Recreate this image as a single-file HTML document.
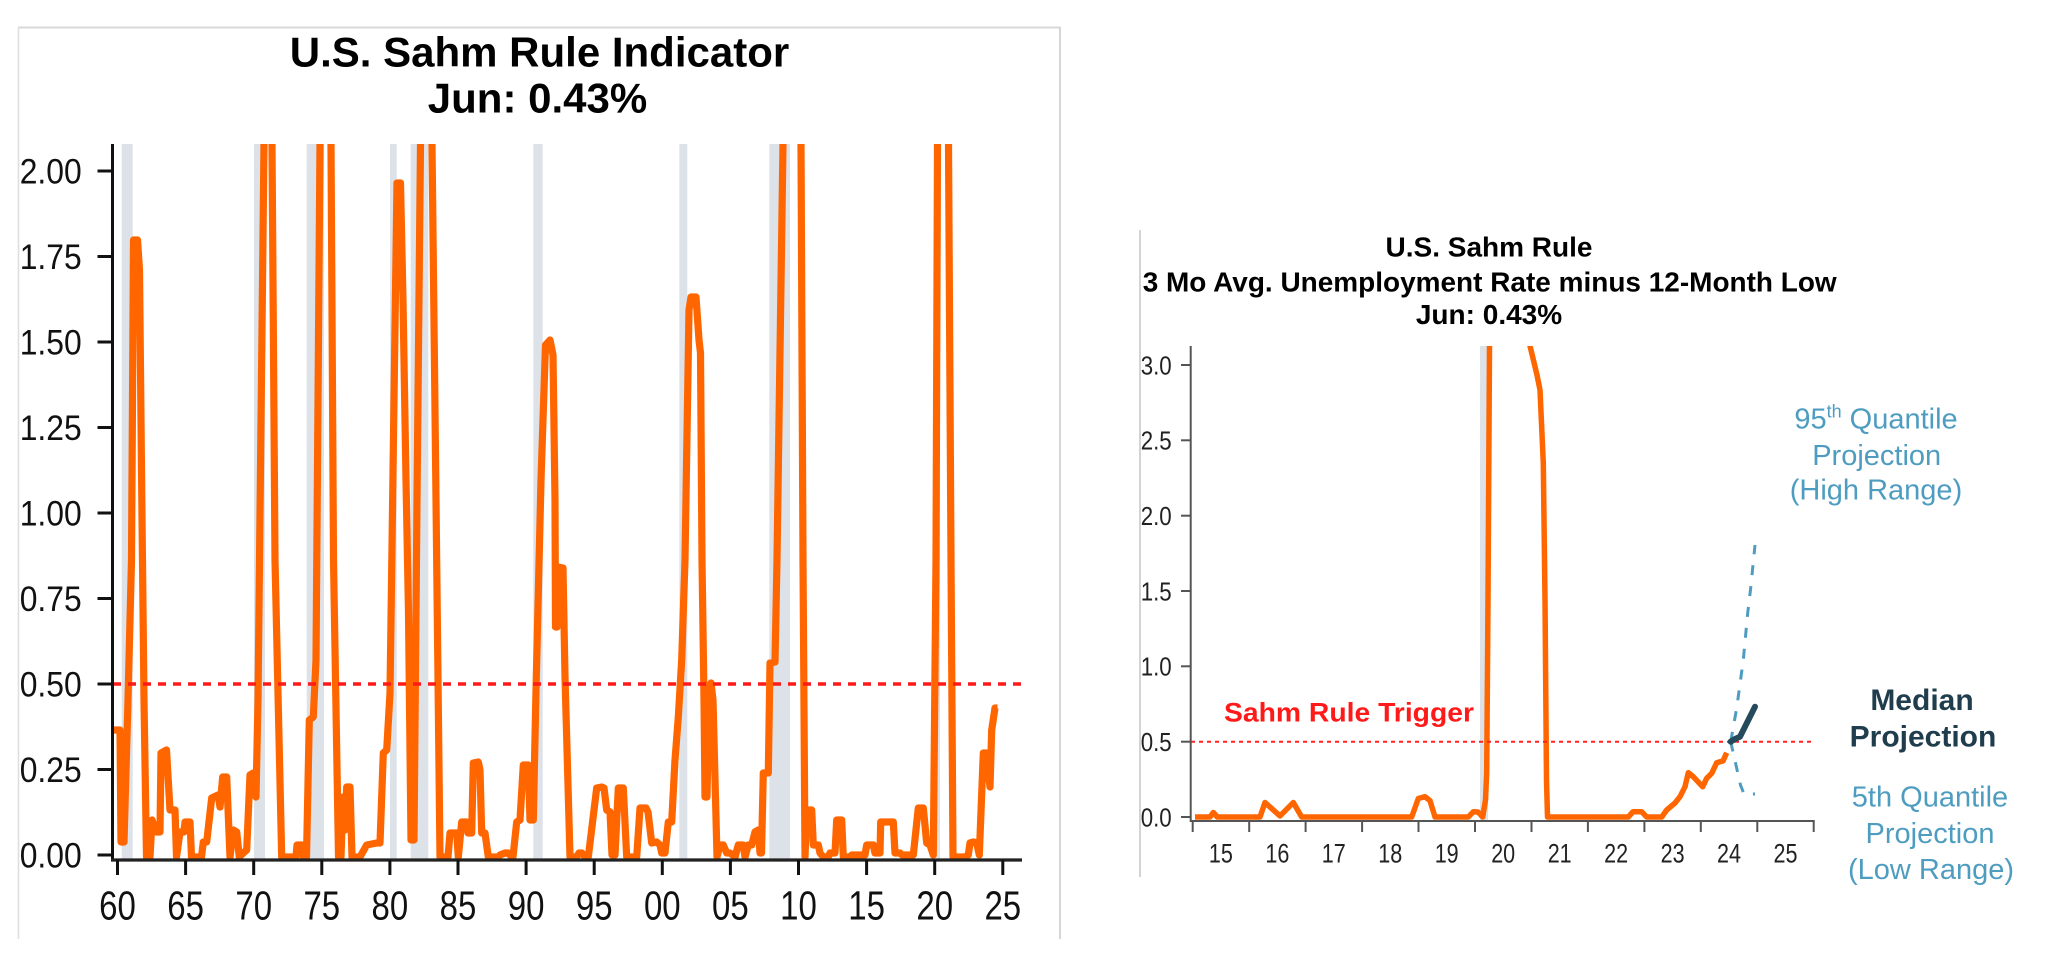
<!DOCTYPE html>
<html>
<head>
<meta charset="utf-8">
<style>
  html,body{margin:0;padding:0;background:#fff;}
  body{width:2048px;height:970px;overflow:hidden;}
  svg{display:block;}
  text{font-family:"Liberation Sans", Arial, sans-serif;}
</style>
</head>
<body>
<svg width="2048" height="970" viewBox="0 0 2048 970" xmlns="http://www.w3.org/2000/svg">
  <defs>
    <clipPath id="cl"><rect x="113" y="144" width="917" height="718"/></clipPath>
    <clipPath id="cr"><rect x="1191" y="346" width="624" height="479"/></clipPath>
  </defs>
  <rect x="0" y="0" width="2048" height="970" fill="#fff"/>

  <!-- ================= LEFT PANEL ================= -->
  <line x1="18" y1="27.5" x2="1061" y2="27.5" stroke="#d8d8d8" stroke-width="2"/>
  <line x1="18.5" y1="27" x2="18.5" y2="939" stroke="#dedede" stroke-width="1.5"/>
  <line x1="1060" y1="27" x2="1060" y2="939" stroke="#d6d6d6" stroke-width="2"/>

  <text x="539.5" y="66.7" text-anchor="middle" font-size="42" font-weight="bold" fill="#000">U.S. Sahm Rule Indicator</text>
  <text x="537.5" y="112.7" text-anchor="middle" font-size="42" font-weight="bold" fill="#000">Jun: 0.43%</text>

  <!-- recession bars -->
  <g fill="#dde2e9">
    <rect x="121.7" y="144" width="11" height="716"/>
    <rect x="254" y="144" width="11" height="716"/>
    <rect x="306.7" y="144" width="17.3" height="716"/>
    <rect x="390" y="144" width="6.7" height="716"/>
    <rect x="410.7" y="144" width="17.6" height="716"/>
    <rect x="533.3" y="144" width="9.4" height="716"/>
    <rect x="679.3" y="144" width="8" height="716"/>
    <rect x="769.3" y="144" width="20.7" height="716"/>
    <rect x="936.5" y="144" width="3.5" height="716"/>
  </g>

  <!-- orange series -->
  <g clip-path="url(#cl)">
    <polyline fill="none" stroke="#ff6600" stroke-width="7.2" stroke-linejoin="round" stroke-linecap="butt" points="
114,730 120,730 121,842 124,842 128,700 131.5,560 133.5,240 137.5,240 139.5,270 141.5,470 144,700 146.5,857
150,857 152,820 156.5,832 160,832 161,753 166.5,750 170,810 175,810 176.5,857 180,832 184,832 185,822 190,822 191.5,857
201.5,857 203.3,842 206.7,842 211.7,798 218,795 220,807 222.7,777 226.7,777 230,857 233.3,830 236.7,832 239.3,857 243.3,853 246.7,850 250,775 253.3,773 256,797 258,700 264,144 268,40 272,144 275,560 281.7,857
296,857 297,845 301.7,845 303.3,857 306.5,857 309.3,720 313.3,717 316,660 320,144 326,40 331,144 333.5,560 338.5,857
341,857 343,797 345,830 346.7,787 350,787 352,857 360,857 366.7,845 376.7,843 380,843 383.3,753 386.7,750 390,693 394,400 397,183 400.5,183 403,300 406,480 408.5,613 411,840 414,840 417,500 420.5,144 426,40 432,144 436,500 440,857
448,857 450,833 456.7,833 458.3,857 461.7,822 466.7,822 468,833 471.7,833 473.3,763 478.3,762 480,770 481.7,833 485,833 488.3,857 498,857 500,855 505,853 508.3,853 511.7,857 513,857 516.7,822 520,820 523.3,765 528.3,765 530,820 533.3,820 536,690 541,480 545.5,345 550,340 553,355 555,500 555.5,627 557,627 558,567 563,568 565,677 570,857
576.7,857 579,853 582,853 585,857 588.3,857 596.7,788 601.7,787 604,788 606.7,810 610,812 612,855 615,855 618.3,788 623.3,788 626.7,857 636.7,857 640,808 646,808 648,812 651.7,843 656.7,842 660,845 661.7,853 665,853 668.3,822 671.7,822 675,760 678.3,717 681.7,660 685,560 689,310 691,297 696,297 699,340 700.5,353 702,560 704,700 705,797 707,797 709,690 711,683 713,700 717,857
720,845 723.3,845 726.7,853 730,853 735,857 738.3,845 743.3,845 745,857 748.3,845 751.7,845 755,832 758.3,830 760,853 761.5,853 763.3,773 768.3,773 770,663 775,662 777,560 783,144 792,40 801,144 803,560 805,857
806.7,810 811.7,810 813.3,845 818.3,845 820,853 823.3,857 828.3,857 830,853 835,853 836.7,820 841.7,820 843.3,857 850,857 851.7,855 865,855 866.7,845 873.3,845 875,853 880,853 880.7,822 893.3,822 895,853 900,853 902,855 913.3,855 918.3,808 923.3,808 926.7,843 930,845 933.3,855 936,560 937.5,144 943,40 948.5,144 951,560 953,857
965,857 968.3,855 970,843 973.3,842 976.7,843 979.3,855 983.3,753 986.7,753 990,787 991.7,730 995,708 997.5,708"/>
  </g>

  <!-- trigger line -->
  <line x1="113" y1="684" x2="1028" y2="684" stroke="#ff1a1a" stroke-width="3.5" stroke-dasharray="8 7"/>

  <!-- axes -->
  <line x1="112.5" y1="144" x2="112.5" y2="861.5" stroke="#111" stroke-width="3"/>
  <line x1="111" y1="860" x2="1022" y2="860" stroke="#222" stroke-width="3.3"/>
  <g stroke="#111" stroke-width="3">
    <line x1="97.5" y1="171" x2="112.5" y2="171"/>
    <line x1="97.5" y1="256.5" x2="112.5" y2="256.5"/>
    <line x1="97.5" y1="342" x2="112.5" y2="342"/>
    <line x1="97.5" y1="427.5" x2="112.5" y2="427.5"/>
    <line x1="97.5" y1="513" x2="112.5" y2="513"/>
    <line x1="97.5" y1="598.5" x2="112.5" y2="598.5"/>
    <line x1="97.5" y1="684" x2="112.5" y2="684"/>
    <line x1="97.5" y1="769.5" x2="112.5" y2="769.5"/>
    <line x1="97.5" y1="855" x2="112.5" y2="855"/>
  </g>
  <g fill="#111" font-size="35" text-anchor="end">
    <text x="81.7" y="183.5" textLength="62" lengthAdjust="spacingAndGlyphs">2.00</text>
    <text x="81.7" y="269" textLength="62" lengthAdjust="spacingAndGlyphs">1.75</text>
    <text x="81.7" y="354.5" textLength="62" lengthAdjust="spacingAndGlyphs">1.50</text>
    <text x="81.7" y="440" textLength="62" lengthAdjust="spacingAndGlyphs">1.25</text>
    <text x="81.7" y="525.5" textLength="62" lengthAdjust="spacingAndGlyphs">1.00</text>
    <text x="81.7" y="611" textLength="62" lengthAdjust="spacingAndGlyphs">0.75</text>
    <text x="81.7" y="696.5" textLength="62" lengthAdjust="spacingAndGlyphs">0.50</text>
    <text x="81.7" y="782" textLength="62" lengthAdjust="spacingAndGlyphs">0.25</text>
    <text x="81.7" y="867.5" textLength="62" lengthAdjust="spacingAndGlyphs">0.00</text>
  </g>
  <g stroke="#111" stroke-width="3">
    <line x1="117.5" y1="860" x2="117.5" y2="875"/>
    <line x1="185.6" y1="860" x2="185.6" y2="875"/>
    <line x1="253.7" y1="860" x2="253.7" y2="875"/>
    <line x1="321.8" y1="860" x2="321.8" y2="875"/>
    <line x1="389.9" y1="860" x2="389.9" y2="875"/>
    <line x1="458" y1="860" x2="458" y2="875"/>
    <line x1="526.1" y1="860" x2="526.1" y2="875"/>
    <line x1="594.2" y1="860" x2="594.2" y2="875"/>
    <line x1="662.3" y1="860" x2="662.3" y2="875"/>
    <line x1="730.4" y1="860" x2="730.4" y2="875"/>
    <line x1="798.5" y1="860" x2="798.5" y2="875"/>
    <line x1="866.6" y1="860" x2="866.6" y2="875"/>
    <line x1="934.7" y1="860" x2="934.7" y2="875"/>
    <line x1="1002.8" y1="860" x2="1002.8" y2="875"/>
  </g>
  <g fill="#111" font-size="41" text-anchor="middle">
    <text x="117.5" y="919.5" textLength="36.7" lengthAdjust="spacingAndGlyphs">60</text>
    <text x="185.6" y="919.5" textLength="36.7" lengthAdjust="spacingAndGlyphs">65</text>
    <text x="253.7" y="919.5" textLength="36.7" lengthAdjust="spacingAndGlyphs">70</text>
    <text x="321.8" y="919.5" textLength="36.7" lengthAdjust="spacingAndGlyphs">75</text>
    <text x="389.9" y="919.5" textLength="36.7" lengthAdjust="spacingAndGlyphs">80</text>
    <text x="458" y="919.5" textLength="36.7" lengthAdjust="spacingAndGlyphs">85</text>
    <text x="526.1" y="919.5" textLength="36.7" lengthAdjust="spacingAndGlyphs">90</text>
    <text x="594.2" y="919.5" textLength="36.7" lengthAdjust="spacingAndGlyphs">95</text>
    <text x="662.3" y="919.5" textLength="36.7" lengthAdjust="spacingAndGlyphs">00</text>
    <text x="730.4" y="919.5" textLength="36.7" lengthAdjust="spacingAndGlyphs">05</text>
    <text x="798.5" y="919.5" textLength="36.7" lengthAdjust="spacingAndGlyphs">10</text>
    <text x="866.6" y="919.5" textLength="36.7" lengthAdjust="spacingAndGlyphs">15</text>
    <text x="934.7" y="919.5" textLength="36.7" lengthAdjust="spacingAndGlyphs">20</text>
    <text x="1002.8" y="919.5" textLength="36.7" lengthAdjust="spacingAndGlyphs">25</text>
  </g>

  <!-- ================= RIGHT PANEL ================= -->
  <line x1="1140" y1="230" x2="1140" y2="877" stroke="#d4d4d4" stroke-width="2"/>

  <text x="1489" y="256.7" text-anchor="middle" font-size="28" font-weight="bold" fill="#000">U.S. Sahm Rule</text>
  <text x="1489.7" y="291.7" text-anchor="middle" font-size="28" font-weight="bold" fill="#000" textLength="694" lengthAdjust="spacingAndGlyphs">3 Mo Avg. Unemployment Rate minus 12-Month Low</text>
  <text x="1489" y="324" text-anchor="middle" font-size="28" font-weight="bold" fill="#000">Jun: 0.43%</text>

  <rect x="1480" y="346" width="8" height="475" fill="#dde2e9"/>

  <g clip-path="url(#cr)">
    <polyline fill="none" stroke="#ff6600" stroke-width="5.5" stroke-linejoin="round" points="
1195,817 1210,817 1213.3,812.5 1217.3,817 1260,817 1265,802.5 1280,816 1293.3,802.5 1301.7,817 1411.7,817 1418.3,798.5 1425,796.7 1430,800.7 1435,817 1468.3,817 1473.3,811.7 1478,812 1482.7,817 1485.5,800 1486.7,773 1488,600 1489.5,346 1491,250 1526,250 1530,346 1537,375 1540,390 1543.3,463 1545,600 1546.5,780 1547.5,817 1628.3,817 1633,811.7 1641.7,811.7 1646.7,817 1661.7,817 1666.7,810 1675,803 1680,796.7 1685,786.7 1688.3,772.7 1693.3,776.7 1702.7,786.7 1706.7,778.3 1711.7,773.3 1716.7,762.7 1720,761.7 1723,761 1726.7,752.7"/>
  </g>

  <line x1="1191" y1="741.7" x2="1814" y2="741.7" stroke="#ff2020" stroke-width="2" stroke-dasharray="4 4"/>

  <!-- projections -->
  <polyline fill="none" stroke="#4e9dc0" stroke-width="3" stroke-dasharray="10 11" points="1730.7,741.7 1736.7,708 1743.3,660 1747.7,613 1750.7,588 1755,545"/>
  <polyline fill="none" stroke="#4e9dc0" stroke-width="3" stroke-dasharray="10 11" points="1730.7,741.7 1740.5,785 1744,794 1755,794"/>
  <polyline fill="none" stroke="#244a5c" stroke-width="6" stroke-linecap="round" stroke-linejoin="round" points="1730.7,741.7 1735,739 1740,736.7 1755,706.7"/>

  <!-- right axes -->
  <line x1="1190.7" y1="346" x2="1190.7" y2="822" stroke="#555" stroke-width="2"/>
  <line x1="1190" y1="821" x2="1814.7" y2="821" stroke="#555" stroke-width="2"/>
  <g stroke="#555" stroke-width="2">
    <line x1="1181" y1="365" x2="1190.7" y2="365"/>
    <line x1="1181" y1="440.3" x2="1190.7" y2="440.3"/>
    <line x1="1181" y1="515.7" x2="1190.7" y2="515.7"/>
    <line x1="1181" y1="591" x2="1190.7" y2="591"/>
    <line x1="1181" y1="666.3" x2="1190.7" y2="666.3"/>
    <line x1="1181" y1="741.7" x2="1190.7" y2="741.7"/>
    <line x1="1181" y1="817" x2="1190.7" y2="817"/>
  </g>
  <g fill="#222" font-size="26" text-anchor="end">
    <text x="1171.7" y="374.3" textLength="31" lengthAdjust="spacingAndGlyphs">3.0</text>
    <text x="1171.7" y="449.6" textLength="31" lengthAdjust="spacingAndGlyphs">2.5</text>
    <text x="1171.7" y="525" textLength="31" lengthAdjust="spacingAndGlyphs">2.0</text>
    <text x="1171.7" y="600.3" textLength="31" lengthAdjust="spacingAndGlyphs">1.5</text>
    <text x="1171.7" y="675.6" textLength="31" lengthAdjust="spacingAndGlyphs">1.0</text>
    <text x="1171.7" y="751" textLength="31" lengthAdjust="spacingAndGlyphs">0.5</text>
    <text x="1171.7" y="826.3" textLength="31" lengthAdjust="spacingAndGlyphs">0.0</text>
  </g>
  <g stroke="#555" stroke-width="2">
    <line x1="1192.7" y1="821" x2="1192.7" y2="832"/>
    <line x1="1249.2" y1="821" x2="1249.2" y2="832"/>
    <line x1="1305.6" y1="821" x2="1305.6" y2="832"/>
    <line x1="1362.1" y1="821" x2="1362.1" y2="832"/>
    <line x1="1418.5" y1="821" x2="1418.5" y2="832"/>
    <line x1="1475" y1="821" x2="1475" y2="832"/>
    <line x1="1531.5" y1="821" x2="1531.5" y2="832"/>
    <line x1="1587.9" y1="821" x2="1587.9" y2="832"/>
    <line x1="1644.4" y1="821" x2="1644.4" y2="832"/>
    <line x1="1700.8" y1="821" x2="1700.8" y2="832"/>
    <line x1="1757.3" y1="821" x2="1757.3" y2="832"/>
    <line x1="1813.7" y1="821" x2="1813.7" y2="832"/>
  </g>
  <g fill="#222" font-size="27" text-anchor="middle">
    <text x="1220.9" y="862.5" textLength="24" lengthAdjust="spacingAndGlyphs">15</text>
    <text x="1277.4" y="862.5" textLength="24" lengthAdjust="spacingAndGlyphs">16</text>
    <text x="1333.8" y="862.5" textLength="24" lengthAdjust="spacingAndGlyphs">17</text>
    <text x="1390.3" y="862.5" textLength="24" lengthAdjust="spacingAndGlyphs">18</text>
    <text x="1446.7" y="862.5" textLength="24" lengthAdjust="spacingAndGlyphs">19</text>
    <text x="1503.2" y="862.5" textLength="24" lengthAdjust="spacingAndGlyphs">20</text>
    <text x="1559.7" y="862.5" textLength="24" lengthAdjust="spacingAndGlyphs">21</text>
    <text x="1616.1" y="862.5" textLength="24" lengthAdjust="spacingAndGlyphs">22</text>
    <text x="1672.6" y="862.5" textLength="24" lengthAdjust="spacingAndGlyphs">23</text>
    <text x="1729" y="862.5" textLength="24" lengthAdjust="spacingAndGlyphs">24</text>
    <text x="1785.5" y="862.5" textLength="24" lengthAdjust="spacingAndGlyphs">25</text>
  </g>

  <!-- annotations -->
  <text x="1224" y="721.7" font-size="27" font-weight="bold" fill="#ff1a1a" textLength="250" lengthAdjust="spacingAndGlyphs">Sahm Rule Trigger</text>

  <g fill="#4e9dc0" font-size="29" text-anchor="middle">
    <text x="1876" y="428.3"><tspan>95</tspan><tspan font-size="18" dy="-11">th</tspan><tspan dy="11"> Quantile</tspan></text>
    <text x="1876.7" y="465">Projection</text>
    <text x="1876" y="499.5">(High Range)</text>
  </g>

  <g fill="#1f3d4d" font-size="30" font-weight="bold" text-anchor="middle">
    <text x="1922" y="710">Median</text>
    <text x="1923" y="746.7">Projection</text>
  </g>

  <g fill="#4e9dc0" font-size="29" text-anchor="middle">
    <text x="1930" y="806.7">5th Quantile</text>
    <text x="1930" y="843">Projection</text>
    <text x="1931" y="879">(Low Range)</text>
  </g>
</svg>
</body>
</html>
